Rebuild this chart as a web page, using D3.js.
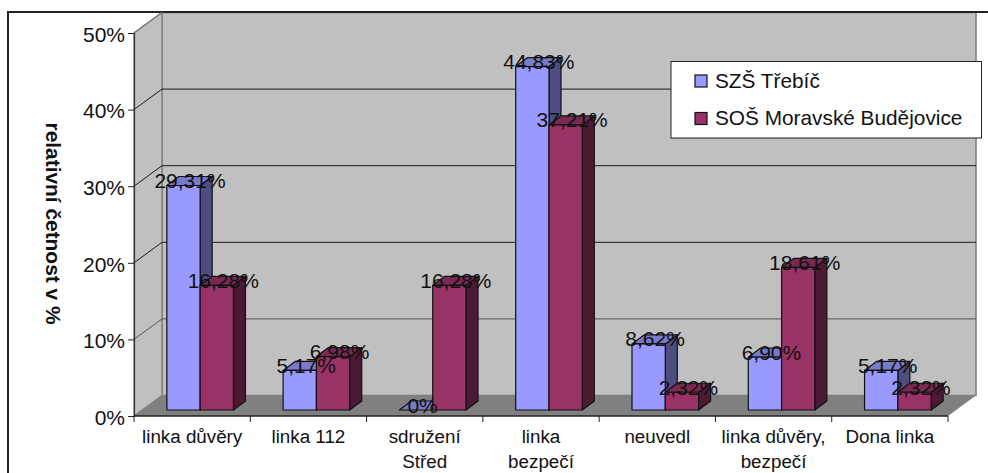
<!DOCTYPE html>
<html lang="cs">
<head>
<meta charset="utf-8">
<script src="https://cdn.jsdelivr.net/npm/d3@7/dist/d3.min.js"></script>
<style>
html,body{margin:0;padding:0;background:#fff;overflow:hidden}
svg{display:block}
text{font-family:"Liberation Sans",Arial,sans-serif;fill:#111}
</style>
</head>
<body>
<svg id="chart" width="988" height="473"></svg>
<script>
// Chart data
const categories = ["linka důvěry", "linka 112", "sdružení\nStřed", "linka\nbezpečí", "neuvedl", "linka důvěry,\nbezpečí", "Dona linka"];
const seriesNames = ["SZŠ Třebíč", "SOŠ Moravské Budějovice"];
const szsTrebic = [29.31, 5.17, 0, 44.83, 8.62, 6.90, 5.17];
const sosBudejovice = [16.28, 6.98, 16.28, 37.21, 2.32, 18.61, 2.32];
const yTicks = [0, 10, 20, 30, 40, 50];
const axisTitle = "relativní četnost v %";

// Fill colours for the front, top and side faces of each series
const palette = [
  {front: "#9999ff", top: "#7a7acc", side: "#4d4d80"},
  {front: "#993366", top: "#7a2952", side: "#4d1a33"}
];

const svg = d3.select("#chart");

// Plot box and oblique projection of the 3D walls
const x0 = 134, x1 = 948, yBase = 416, yTop = 33;
const wallDx = 28, wallDy = -20.5;
const barInsetY = 6, barDepthX = 12, barDepthY = -9, barShift = 8;

const x = d3.scaleBand().domain(categories).range([x0, x1]);
const y = d3.scaleLinear().domain([0, 50]).range([yBase, yTop]);
const barW = 33.3;

const poly = pts => pts.map(p => p.join(",")).join(" ");

// Back wall, side wall and floor
svg.append("polygon")
  .attr("points", poly([[x0 + wallDx, yTop + wallDy], [x1 + wallDx, yTop + wallDy], [x1 + wallDx, yBase + wallDy], [x0 + wallDx, yBase + wallDy]]))
  .attr("fill", "#c0c0c0").attr("stroke", "#808080").attr("stroke-width", 1.6);
svg.append("polygon")
  .attr("points", poly([[x0, yTop], [x0 + wallDx, yTop + wallDy], [x0 + wallDx, yBase + wallDy], [x0, yBase]]))
  .attr("fill", "#c0c0c0").attr("stroke", "#808080").attr("stroke-width", 1.4);
svg.append("polygon")
  .attr("points", poly([[x0, yBase], [x1, yBase], [x1 + wallDx, yBase + wallDy], [x0 + wallDx, yBase + wallDy]]))
  .attr("fill", "#808080");

// Frame around the chart area
svg.append("path").attr("d", `M8,473V12H988`).attr("fill", "none")
  .attr("stroke", "#222").attr("stroke-width", 2);

// Gridlines across both walls
const grid = yTicks.filter(t => t > 0 && t < 50);
svg.append("g").selectAll("path").data(grid).join("path")
  .attr("d", t => `M${x0},${y(t)}L${x0 + wallDx},${y(t) + wallDy}H${x1 + wallDx}`)
  .attr("fill", "none").attr("stroke", t => t === 10 ? "#555" : "#1a1a1a").attr("stroke-width", 1);
svg.append("line").attr("x1", x0).attr("y1", yTop).attr("x2", x0 + wallDx).attr("y2", yTop + wallDy)
  .attr("stroke", "#808080").attr("stroke-width", 1.4);

// Value axis
const yAxis = d3.axisLeft(y).tickValues(yTicks).tickFormat(d => d + "%").tickSize(6).tickPadding(3);
const gy = svg.append("g").attr("transform", `translate(${x0},0)`).call(yAxis);
gy.select(".domain").attr("stroke", "#333").attr("stroke-width", 1.2);
gy.selectAll(".tick line").attr("stroke", "#222");
gy.selectAll("text").attr("font-size", 21).attr("y", 1.5)
  .attr("font-family", '"Liberation Sans",Arial,sans-serif').attr("fill", "#111");

// Category axis with ticks at band edges
const xg = svg.append("g");
xg.append("line").attr("x1", x0).attr("x2", x1).attr("y1", yBase).attr("y2", yBase)
  .attr("stroke", "#222").attr("stroke-width", 1.4);
const edges = categories.map(c => x(c)).concat([x1]);
xg.selectAll("line.edge").data(edges).join("line").attr("class", "edge")
  .attr("x1", d => d).attr("x2", d => d).attr("y1", yBase).attr("y2", yBase + 6)
  .attr("stroke", "#222");
const catLabels = xg.selectAll("text").data(categories).join("text")
  .attr("text-anchor", "middle").attr("font-size", 18.8);
catLabels.each(function (c) {
  const t = d3.select(this);
  c.split("\n").forEach((line, i) => {
    t.append("tspan").attr("x", x(c) + x.bandwidth() / 2).attr("y", 443 + i * 25).text(line);
  });
});

// Bars: each is a front face plus a top and a side face
const rows = [];
categories.forEach((c, i) => {
  [szsTrebic[i], sosBudejovice[i]].forEach((v, s) => rows.push({c, v, s}));
});
const barX = d => x(d.c) + x.bandwidth() / 2 + barShift + (d.s - 1) * barW;
const barTop = d => y(d.v) - barInsetY;
const barBottom = yBase - barInsetY;

const bars = svg.append("g").selectAll("g").data(rows).join("g")
  .attr("stroke", "#111").attr("stroke-width", 1.2).attr("stroke-linejoin", "round");
bars.filter(d => d.v > 0).append("polygon")
  .attr("points", d => {
    const l = barX(d) + barW, t = barTop(d);
    return poly([[l, t], [l + barDepthX, t + barDepthY], [l + barDepthX, barBottom + barDepthY], [l, barBottom]]);
  })
  .attr("fill", d => palette[d.s].side);
bars.append("polygon")
  .attr("points", d => {
    const l = barX(d), t = barTop(d);
    return poly([[l, t], [l + barDepthX, t + barDepthY], [l + barW + barDepthX, t + barDepthY], [l + barW, t]]);
  })
  .attr("fill", d => palette[d.s].top);
bars.filter(d => d.v > 0).append("rect")
  .attr("x", barX).attr("y", barTop).attr("width", barW).attr("height", d => barBottom - barTop(d))
  .attr("fill", d => palette[d.s].front);

// Value labels centred on each bar's top face
const fmt = v => v === 0 ? "0%" : v.toFixed(2).replace(".", ",") + "%";
svg.append("g").selectAll("text").data(rows).join("text")
  .attr("x", d => barX(d) + barW / 2 + barDepthX / 2 + 0.5)
  .attr("y", d => barTop(d) + 2.5)
  .attr("text-anchor", "middle").attr("font-size", 21)
  .text(d => fmt(d.v));

// Rotated axis title
svg.append("text")
  .attr("transform", "translate(46,223.5) rotate(90)")
  .attr("text-anchor", "middle").attr("font-size", 20.9).attr("font-weight", "bold")
  .text(axisTitle);

// Legend
const legend = svg.append("g");
legend.append("rect").attr("x", 671).attr("y", 61.5).attr("width", 310.5).attr("height", 76.5)
  .attr("fill", "#fff").attr("stroke", "#222").attr("stroke-width", 1);
const items = legend.selectAll("g").data(seriesNames).join("g")
  .attr("transform", (d, i) => `translate(0,${i * 37.5})`);
items.append("rect").attr("x", 695).attr("y", 75).attr("width", 12).attr("height", 12)
  .attr("fill", (d, i) => palette[i].front).attr("stroke", "#111").attr("stroke-width", 1.2);
items.append("text").attr("x", 715).attr("y", 87.5).attr("font-size", 20.8).text(d => d);
</script>
</body>
</html>
